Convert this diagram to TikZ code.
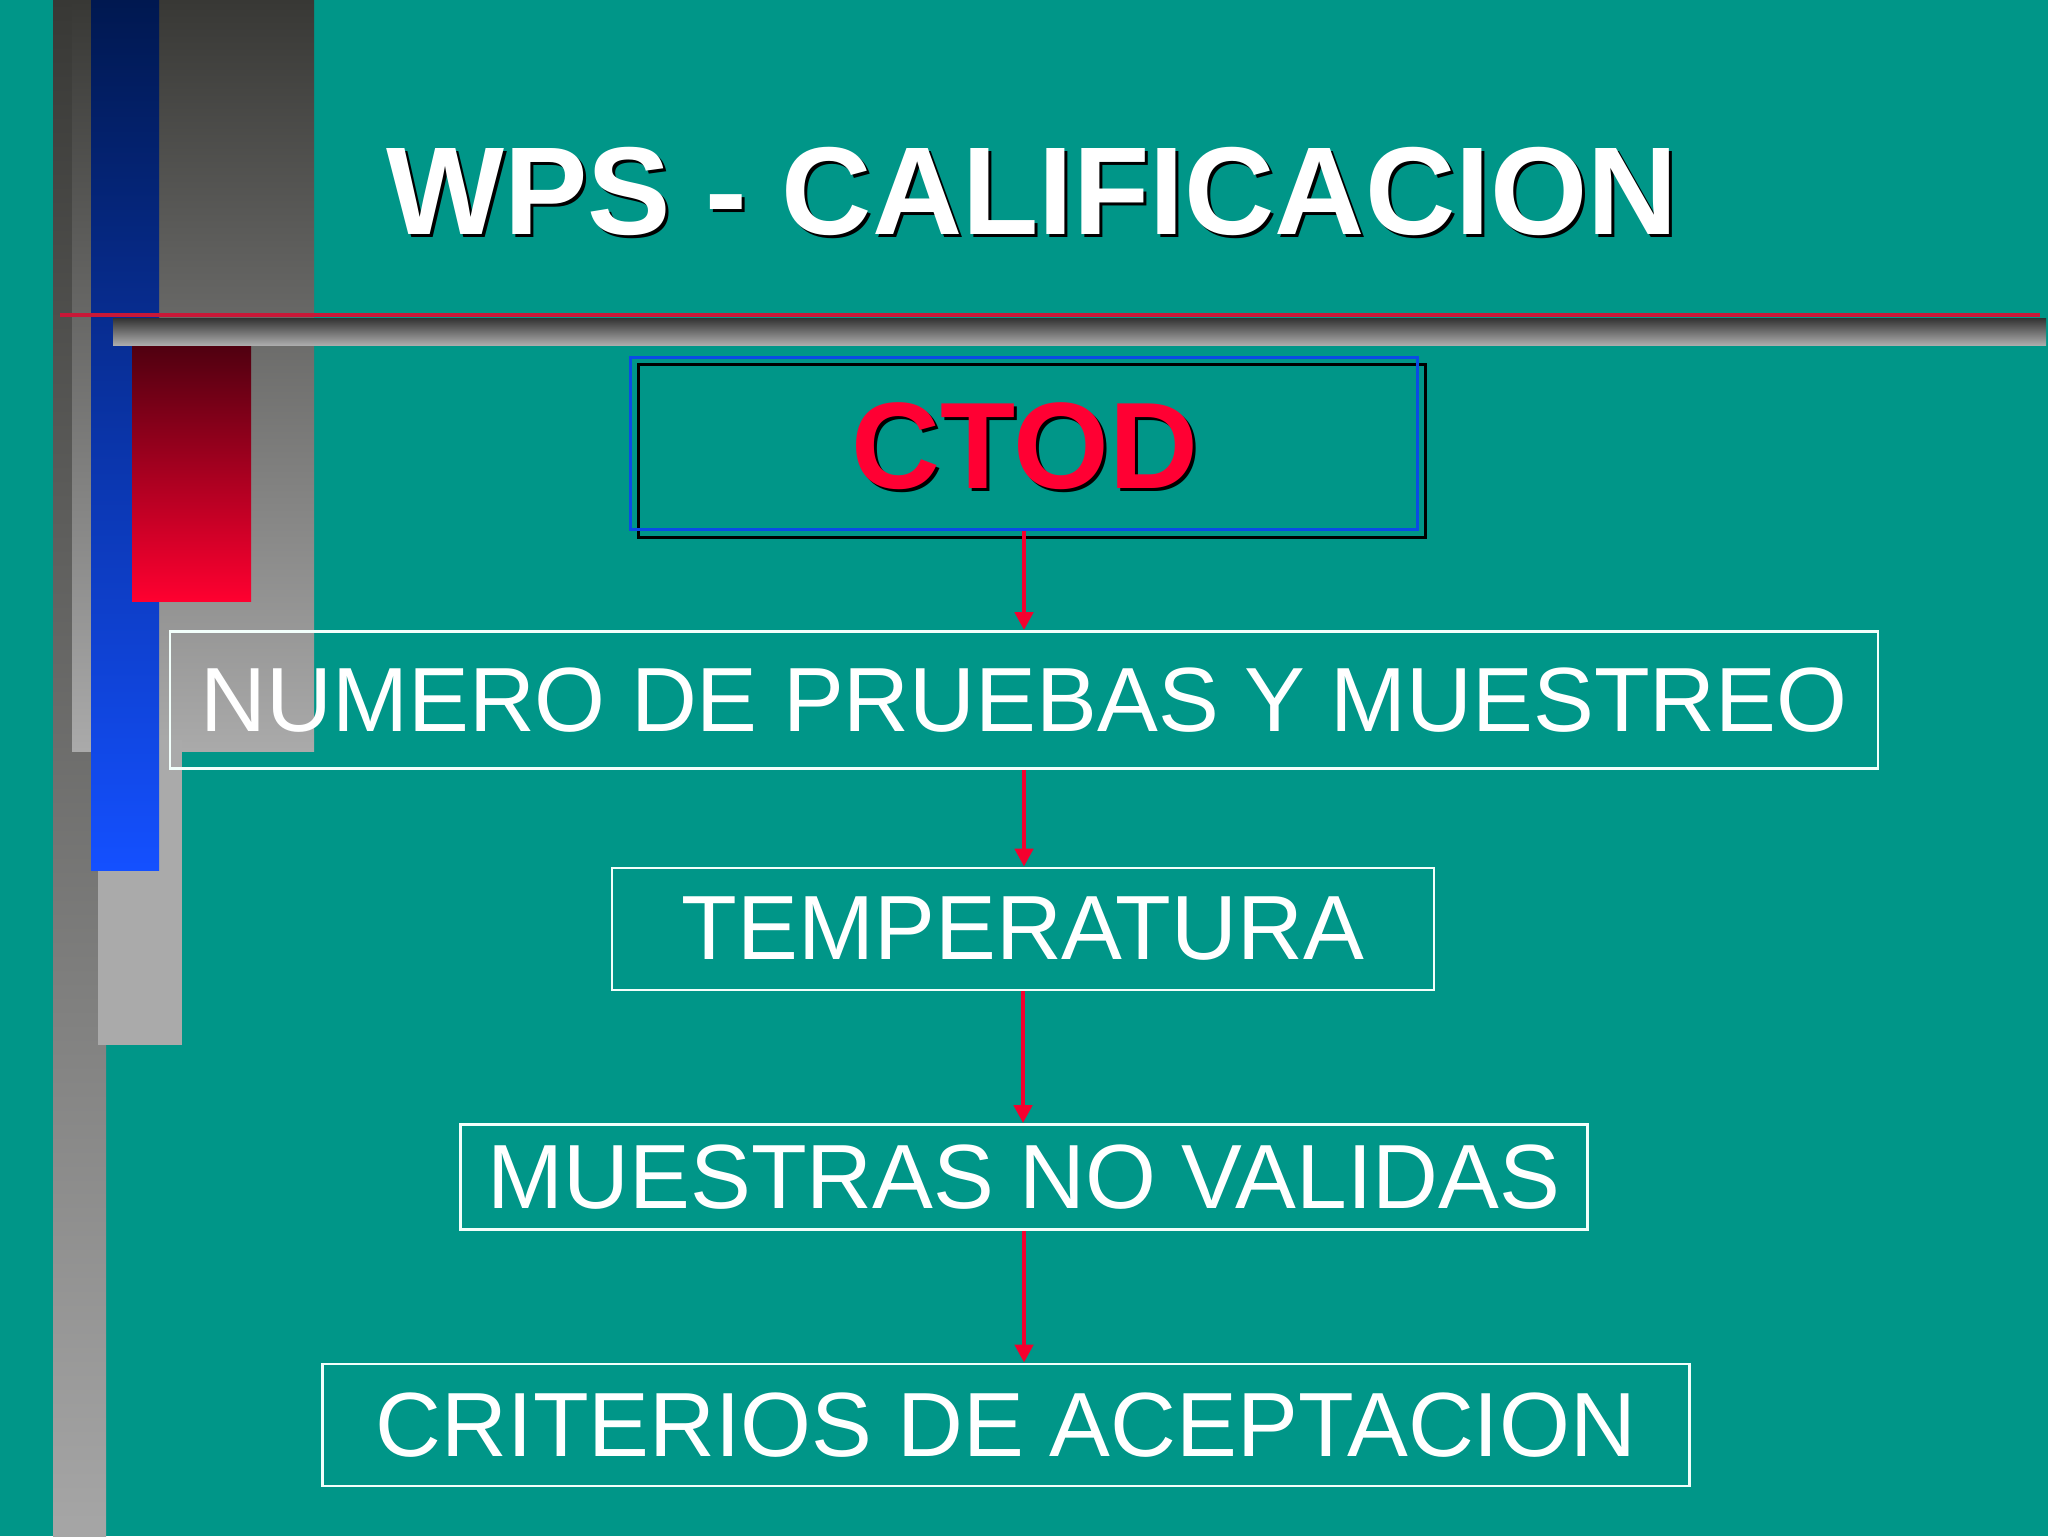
\documentclass[tikz,border=0pt]{standalone}
\usepackage{fontspec}
\setmainfont{Liberation Sans}
\usetikzlibrary{arrows.meta}
\definecolor{bgteal}{HTML}{009688}
\definecolor{arrowred}{HTML}{F5002E}
\definecolor{framewhite}{HTML}{F2FFFB}
\definecolor{ctodred}{HTML}{FF0033}
\definecolor{ctodblue}{HTML}{0A4BE6}
\definecolor{graydark}{RGB}{56,56,53}
\definecolor{graylightA}{RGB}{166,166,166}
\definecolor{graylightB}{RGB}{170,170,170}
\definecolor{navytop}{RGB}{0,24,80}
\definecolor{bluebot}{RGB}{20,80,255}
\definecolor{thinred}{RGB}{200,24,56}
\definecolor{bardark}{RGB}{50,50,50}
\definecolor{barlight}{RGB}{172,172,172}
\definecolor{redtop}{RGB}{80,0,16}
\definecolor{redbot}{RGB}{255,0,48}
\tikzset{
  stepbox/.style={draw=framewhite, line width=1.4pt, inner sep=0pt, text=white,
    font=\fontsize{45.6pt}{54pt}\selectfont},
  flowarrow/.style={draw=arrowred, line width=2.3pt, -{Triangle[length=9pt,width=9pt]}},
  bigtitle/.style={font=\fontsize{62.5pt}{70pt}\selectfont\bfseries, inner sep=0pt},
  ctodtitle/.style={font=\fontsize{61.5pt}{70pt}\selectfont\bfseries, inner sep=0pt},
}
\begin{document}
\begin{tikzpicture}[x=0.5pt,y=-0.5pt]
\useasboundingbox (0,0) rectangle (2048,1536);
\fill[bgteal] (0,0) rectangle (2048,1536);
% left decoration
\shade[top color=graydark, bottom color=graylightA] (53,0) rectangle (106,1536);
\shade[top color=graydark, bottom color=graylightB] (72,0) rectangle (314,751);
\fill[graylightB] (98,740) rectangle (182,1045);
\shade[top color=navytop, bottom color=bluebot] (91,0) rectangle (159,870);
% red line and gray bar
\fill[thinred] (60,313) rectangle (2040,317);
\shade[top color=bardark, bottom color=barlight] (113,318) rectangle (2046,345);
\shade[top color=redtop, bottom color=redbot] (132,346) rectangle (251,601);
% title
\node[bigtitle, text=black] at (1035,194) {WPS - CALIFICACION};
\node[bigtitle, text=white] (title) at (1032,191) {WPS - CALIFICACION};
% CTOD box
\draw[black, line width=1.5pt] (638,364) rectangle (1425,537);
\node[draw=ctodblue, line width=1.5pt, minimum width=787*0.5pt, minimum height=172*0.5pt, inner sep=0pt] (ctod) at (1024,443) {};
\node[ctodtitle, text=black] at (1028,449) {CTOD};
\node[ctodtitle, text=ctodred] (ctodtext) at (1025,446) {CTOD};
% flow boxes
\node[stepbox, minimum width=1708*0.5pt, minimum height=137*0.5pt] (b1) at (1024,700) {NUMERO DE PRUEBAS Y MUESTREO};
\node[stepbox, minimum width=822*0.5pt, minimum height=122*0.5pt] (b2) at (1023,929) {TEMPERATURA};
\node[stepbox, minimum width=1127*0.5pt, minimum height=105*0.5pt] (b3) at (1024,1177) {MUESTRAS NO VALIDAS};
\node[stepbox, minimum width=1367*0.5pt, minimum height=122*0.5pt] (b4) at (1006,1425) {CRITERIOS DE ACEPTACION};
% arrows
\draw[flowarrow] (ctod.south) -- (ctod.south |- b1.north);
\draw[flowarrow] (b1.south) -- (b1.south |- b2.north);
\draw[flowarrow] (b2.south) -- (b2.south |- b3.north);
\draw[flowarrow] (b3.south) -- (b3.south |- b4.north);
\end{tikzpicture}
\end{document}
